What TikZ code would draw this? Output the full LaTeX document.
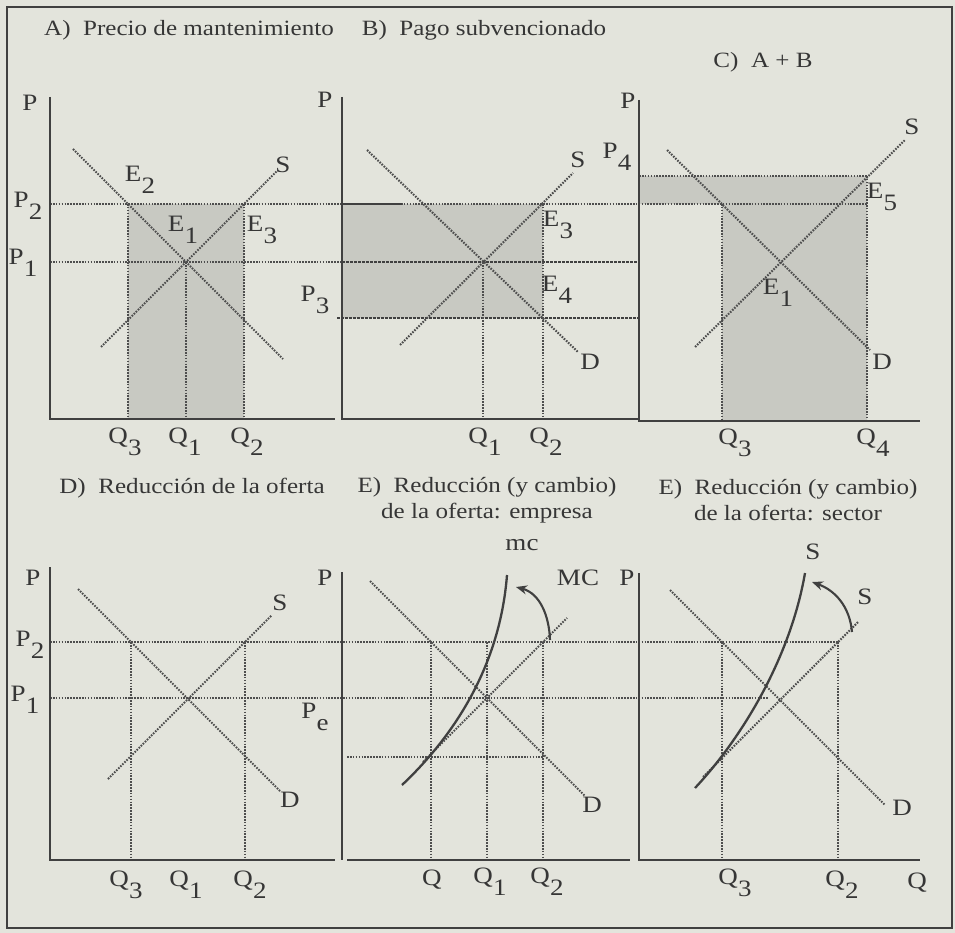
\documentclass[tikz,border=0pt]{standalone}
\usepackage{fontspec}
\setmainfont{Liberation Serif}[FakeStretch=1.15]
\usetikzlibrary{arrows.meta}
\definecolor{bg}{HTML}{E3E4DC}
\definecolor{shadec}{HTML}{C8C9C2}
\definecolor{ink}{HTML}{404040}
\definecolor{txt}{HTML}{363636}
\definecolor{dotc}{HTML}{4E4E4E}
\newcommand{\sbs}[2]{#1\kern0.3pt\raisebox{-0.52em}{#2}}
\begin{document}
\begin{tikzpicture}[x=1pt,y=-1pt,
  axis/.style={draw=ink, line width=2.5pt},
  dots/.style={draw=dotc, line width=2.1pt, dash pattern=on 1.6pt off 1.3pt},
  dashd/.style={draw=ink, line width=2.1pt, dash pattern=on 3pt off 1pt},
  solidl/.style={draw=ink, line width=2.2pt},
  curve/.style={draw=ink, line width=2.3pt},
  lab/.style={text=txt, font=\fontsize{23.5}{25}\selectfont, inner sep=0pt},
  ttl/.style={text=txt, font=\fontsize{21.8}{25.5}\selectfont, inner sep=0pt, align=center},
  shd/.style={fill=shadec},
  arr/.style={draw=ink, line width=2.1pt, -{Stealth[length=11pt,width=9pt]}}]
\useasboundingbox (0,0) rectangle (955,933);
\fill[bg] (0,0) rectangle (955,933);
\draw[ink, line width=2pt] (7,7) rectangle (952,928);

% ---------- shading (top row) ----------
\fill[shd] (128,204) rectangle (244,419);
\fill[shd] (342,204) rectangle (543,318);
\fill[shd] (639,176) rectangle (867,204);
\fill[shd] (722,204) rectangle (867,421);

% ---------- coordinates top row ----------
\coordinate (P2a) at (50,204);  \coordinate (P2b) at (867,204);
\coordinate (P1a) at (50,262);  \coordinate (P1m) at (342,262); \coordinate (P1b) at (639,262);
\coordinate (P3a) at (337,318); \coordinate (P3b) at (639,318);
\coordinate (P4a) at (639,176); \coordinate (P4b) at (867,176);
\coordinate (Bsa) at (342,204); \coordinate (Bsb) at (402,204);

\draw[dots] (P2a) -- (P2b);
\draw[dots] (P1a) -- (P1m);
\draw[dashd] (P1m) -- (P1b);
\draw[dashd] (P3a) -- (P3b);
\draw[dots] (P4a) -- (P4b);
\draw[solidl] (Bsa) -- (Bsb);

% Panel A
\coordinate (AQ3t) at (128,204); \coordinate (AQ3b) at (128,419);
\coordinate (AQ1t) at (186,262); \coordinate (AQ1b) at (186,419);
\coordinate (AQ2t) at (244,204); \coordinate (AQ2b) at (244,419);
\coordinate (AD1) at (73,149);   \coordinate (AD2) at (283,359);
\coordinate (AS1) at (101,347);  \coordinate (AS2) at (277,171);
\coordinate (Ay) at (50,97); \coordinate (Ao) at (50,419); \coordinate (Ax) at (335,419);
\draw[dots] (AQ3t) -- (AQ3b);
\draw[dots] (AQ1t) -- (AQ1b);
\draw[dots] (AQ2t) -- (AQ2b);
\draw[dots] (AD1) -- (AD2);
\draw[dots] (AS1) -- (AS2);
\draw[axis] (Ay) -- (Ao) -- (Ax);

% Panel B
\coordinate (BQ1t) at (483,262); \coordinate (BQ1b) at (483,419);
\coordinate (BQ2t) at (543,204); \coordinate (BQ2b) at (543,419);
\coordinate (BD1) at (367,150);  \coordinate (BD2) at (578,352);
\coordinate (BS1) at (400,345);  \coordinate (BS2) at (573,173);
\coordinate (By) at (342,97); \coordinate (Bo) at (342,419); \coordinate (Bx) at (640,419);
\draw[dots] (BQ1t) -- (BQ1b);
\draw[dots] (BQ2t) -- (BQ2b);
\draw[dots] (BD1) -- (BD2);
\draw[dots] (BS1) -- (BS2);
\draw[axis] (By) -- (Bo) -- (Bx);

% Panel C
\coordinate (CQ3t) at (722,204); \coordinate (CQ3b) at (722,421);
\coordinate (CQ4t) at (867,176); \coordinate (CQ4b) at (867,421);
\coordinate (CD1) at (667,150);  \coordinate (CD2) at (870,350);
\coordinate (CS1) at (695,347);  \coordinate (CS2) at (905,140);
\coordinate (Cy) at (639,100); \coordinate (Co) at (639,421); \coordinate (Cx) at (920,421);
\draw[dots] (CQ3t) -- (CQ3b);
\draw[dots] (CQ4t) -- (CQ4b);
\draw[dots] (CD1) -- (CD2);
\draw[dots] (CS1) -- (CS2);
\draw[axis] (Cy) -- (Co) -- (Cx);

% ---------- bottom row ----------
\coordinate (L2a) at (50,642); \coordinate (L2b) at (838,642);
\coordinate (L1a) at (50,698); \coordinate (L1b) at (768,698);
\coordinate (L3a) at (347,757); \coordinate (L3b) at (543,757);
\draw[dots] (L2a) -- (L2b);
\draw[dots] (L1a) -- (L1b);
\draw[dots] (L3a) -- (L3b);

% Panel D
\coordinate (DQ3t) at (131,642); \coordinate (DQ3b) at (131,860);
\coordinate (DQ2t) at (245,642); \coordinate (DQ2b) at (245,860);
\coordinate (DD1) at (78,589);   \coordinate (DD2) at (280,791);
\coordinate (DS1) at (108,779);  \coordinate (DS2) at (272,615);
\coordinate (Dy) at (50,567); \coordinate (Do) at (50,860); \coordinate (Dx) at (335,860);
\draw[dots] (DQ3t) -- (DQ3b);
\draw[dots] (DQ2t) -- (DQ2b);
\draw[dots] (DD1) -- (DD2);
\draw[dots] (DS1) -- (DS2);
\draw[axis] (Dy) -- (Do) -- (Dx);

% Panel E
\coordinate (EQt) at (431,642);  \coordinate (EQb) at (431,860);
\coordinate (EQ1t) at (487,642); \coordinate (EQ1b) at (487,860);
\coordinate (EQ2t) at (543,642); \coordinate (EQ2b) at (543,860);
\coordinate (ED1) at (370,581);  \coordinate (ED2) at (585,796);
\coordinate (ES1) at (423,762);  \coordinate (ES2) at (567,618);
\coordinate (Emc1) at (402,785); \coordinate (Emc2) at (507,575);
\coordinate (Ea1) at (550,640);  \coordinate (Ea2) at (516,587);
\coordinate (Ey) at (342,572); \coordinate (Eo) at (342,860);
\coordinate (Exa) at (347,860); \coordinate (Exb) at (630,860);
\draw[dots] (EQt) -- (EQb);
\draw[dots] (EQ1t) -- (EQ1b);
\draw[dots] (EQ2t) -- (EQ2b);
\draw[dots] (ED1) -- (ED2);
\draw[dots] (ES1) -- (ES2);
\draw[curve] (Emc1) .. controls (455,735) and (500,665) .. (Emc2);
\draw[arr] (Ea1) to[out=92,in=-15] (Ea2);
\draw[axis] (Ey) -- (Eo);
\draw[axis] (Exa) -- (Exb);

% Panel F
\coordinate (FQ3t) at (722,642); \coordinate (FQ3b) at (722,860);
\coordinate (FQ2t) at (838,642); \coordinate (FQ2b) at (838,860);
\coordinate (FD1) at (670,590);  \coordinate (FD2) at (885,805);
\coordinate (FS1) at (703,777);  \coordinate (FS2) at (858,622);
\coordinate (Fc1) at (695,788);  \coordinate (Fc2) at (805,573);
\coordinate (Fa1) at (852,632);  \coordinate (Fa2) at (812,582);
\coordinate (Fy) at (639,573); \coordinate (Fo) at (639,860); \coordinate (Fx) at (920,860);
\draw[dots] (FQ3t) -- (FQ3b);
\draw[dots] (FQ2t) -- (FQ2b);
\draw[dots] (FD1) -- (FD2);
\draw[dots] (FS1) -- (FS2);
\draw[curve] (Fc1) .. controls (740,740) and (790,660) .. (Fc2);
\draw[arr] (Fa1) to[out=95,in=-20] (Fa2);
\draw[axis] (Fy) -- (Fo) -- (Fx);

% ---------- labels ----------
\node[ttl] (tA) at (189,30) {A)\ \ Precio de mantenimiento};
\node[ttl] (tB) at (484,30) {B)\ \ Pago subvencionado};
\node[ttl] (tC) at (763,62) {C)\ \ A + B};
\node[ttl] (tD) at (192,488) {D)\ \ Reducción de la oferta};
\node[ttl] (tE) at (487,500) {E)\ \ Reducción (y cambio)\\de la oferta: empresa};
\node[ttl] (tF) at (788,500) {E)\ \ Reducción (y cambio)\\de la oferta: sector};

% A labels
\node[lab] (aP) at (30,103) {P};
\node[lab] (aP2) at (28,206) {\sbs{P}{2}};
\node[lab] (aP1) at (23,263) {\sbs{P}{1}};
\node[lab] (aE2) at (140,180) {\sbs{E}{2}};
\node[lab] (aE1) at (183,230) {\sbs{E}{1}};
\node[lab] (aE3) at (262,230) {\sbs{E}{3}};
\node[lab] (aS) at (283,165) {S};
\node[lab] (aQ3) at (125,442) {\sbs{Q}{3}};
\node[lab] (aQ1) at (185,442) {\sbs{Q}{1}};
\node[lab] (aQ2) at (247,442) {\sbs{Q}{2}};

% B labels
\node[lab] (bP) at (325,100) {P};
\node[lab] (bS) at (578,160) {S};
\node[lab] (bP4) at (617,157) {\sbs{P}{4}};
\node[lab] (bE3) at (558,225) {\sbs{E}{3}};
\node[lab] (bE4) at (557,290) {\sbs{E}{4}};
\node[lab] (bD) at (590,362) {D};
\node[lab] (bP3) at (315,300) {\sbs{P}{3}};
\node[lab] (bQ1) at (485,442) {\sbs{Q}{1}};
\node[lab] (bQ2) at (546,442) {\sbs{Q}{2}};

% C labels
\node[lab] (cP) at (628,101) {P};
\node[lab] (cS) at (912,127) {S};
\node[lab] (cE5) at (882,197) {\sbs{E}{5}};
\node[lab] (cE1) at (778,293) {\sbs{E}{1}};
\node[lab] (cD) at (882,362) {D};
\node[lab] (cQ3) at (735,443) {\sbs{Q}{3}};
\node[lab] (cQ4) at (873,443) {\sbs{Q}{4}};

% D labels
\node[lab] (dP) at (33,578) {P};
\node[lab] (dP2) at (30,645) {\sbs{P}{2}};
\node[lab] (dP1) at (25,700) {\sbs{P}{1}};
\node[lab] (dS) at (280,603) {S};
\node[lab] (dD) at (290,800) {D};
\node[lab] (dQ3) at (126,885) {\sbs{Q}{3}};
\node[lab] (dQ1) at (186,885) {\sbs{Q}{1}};
\node[lab] (dQ2) at (250,885) {\sbs{Q}{2}};

% E labels
\node[lab] (eP) at (325,578) {P};
\node[lab] (ePe) at (315,717) {\sbs{P}{e}};
\node[lab] (emc) at (522,545) {mc};
\node[lab] (eMC) at (578,578) {MC};
\node[lab] (eD) at (592,805) {D};
\node[lab] (eQ) at (432,880) {Q};
\node[lab] (eQ1) at (490,882) {\sbs{Q}{1}};
\node[lab] (eQ2) at (547,882) {\sbs{Q}{2}};

% F labels
\node[lab] (fP) at (627,578) {P};
\node[lab] (fS1) at (813,552) {S};
\node[lab] (fS2) at (865,597) {S};
\node[lab] (fD) at (902,808) {D};
\node[lab] (fQ3) at (735,883) {\sbs{Q}{3}};
\node[lab] (fQ2) at (842,885) {\sbs{Q}{2}};
\node[lab] (fQ) at (917,883) {Q};
\end{tikzpicture}
\end{document}
